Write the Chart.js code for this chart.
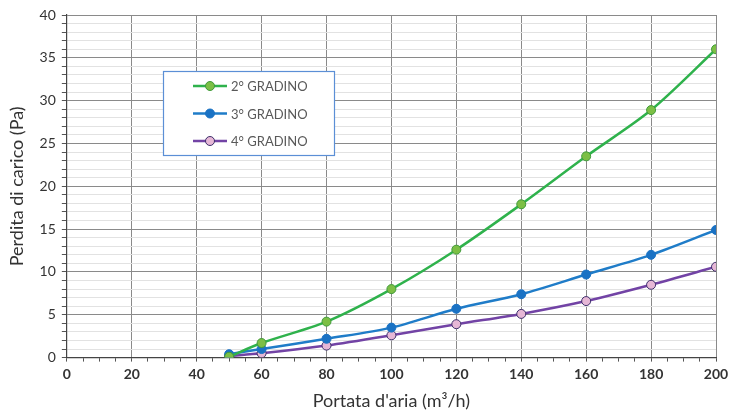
<!DOCTYPE html>
<html>
<head>
<meta charset="utf-8">
<script src="https://cdn.jsdelivr.net/npm/chart.js@4/dist/chart.umd.min.js"></script>
<style>
  body { margin: 0; background: #fff; }
  #wrap { width: 729px; height: 412px; }
</style>
</head>
<body>
<div id="wrap"><canvas id="lossChart" width="729" height="412"></canvas></div>
<script>
// Air flow (m3/h) and pressure loss (Pa) per fan step
const airFlow = [50, 60, 80, 100, 120, 140, 160, 180, 200];
const step2 = [0.1, 1.7, 4.2, 8.0, 12.6, 17.9, 23.5, 28.9, 36.0];
const step3 = [0.4, 1.0, 2.2, 3.5, 5.7, 7.4, 9.7, 12.0, 14.9];
const step4 = [0.2, 0.5, 1.4, 2.6, 3.9, 5.1, 6.6, 8.5, 10.6];
const seriesLabels = ["2° GRADINO", "3° GRADINO", "4° GRADINO"];

const FONT = "Lato, 'Open Sans', sans-serif";

function toPoints(values) {
  return airFlow.map((x, i) => ({ x: x, y: values[i] }));
}

// Legend box drawn inside the plot, like the original
const boxLegend = {
  id: "boxLegend",
  afterDraw(chart) {
    const ctx = chart.ctx;
    const left = 163, top = 71, w = 171, h = 84;
    ctx.save();
    ctx.fillStyle = "#fff";
    ctx.fillRect(left, top, w, h);
    ctx.strokeStyle = "#5b8fd6";
    ctx.lineWidth = 1.2;
    ctx.strokeRect(left + 0.5, top + 0.5, w, h);
    chart.data.datasets.forEach((ds, i) => {
      const y = top + 15 + i * 27.5;
      ctx.strokeStyle = ds.borderColor;
      ctx.lineWidth = 2.5;
      ctx.beginPath();
      ctx.moveTo(193, y);
      ctx.lineTo(227, y);
      ctx.stroke();
      ctx.beginPath();
      ctx.arc(210, y, 4.5, 0, Math.PI * 2);
      ctx.fillStyle = ds.pointBackgroundColor;
      ctx.fill();
      ctx.lineWidth = 1;
      ctx.strokeStyle = ds.pointBorderColor;
      ctx.stroke();
      ctx.fillStyle = "#595959";
      ctx.font = "13px " + FONT;
      ctx.textBaseline = "middle";
      ctx.fillText(ds.label, 231, y + 1);
    });
    ctx.restore();
  },
};

new Chart(document.getElementById("lossChart").getContext("2d"), {
  type: "line",
  data: {
    datasets: [
      {
        label: seriesLabels[0],
        data: toPoints(step2),
        borderColor: "#2fb24c",
        pointBackgroundColor: "#7cbf45",
        pointBorderColor: "#3f9a3a",
      },
      {
        label: seriesLabels[1],
        data: toPoints(step3),
        borderColor: "#1f7cc8",
        pointBackgroundColor: "#1a72c4",
        pointBorderColor: "#1a72c4",
      },
      {
        label: seriesLabels[2],
        data: toPoints(step4),
        borderColor: "#7243a5",
        pointBackgroundColor: "#e6b7d6",
        pointBorderColor: "#3d2f6b",
      },
    ].map((ds) => ({
      ...ds,
      borderWidth: 2.5,
      pointRadius: 4.5,
      pointBorderWidth: 1,
      tension: 0.3,
      fill: false,
    })),
  },
  options: {
    responsive: false,
    animation: false,
    layout: { padding: { top: 15, right: 0, left: 2, bottom: 0 } },
    plugins: {
      legend: { display: false },
      tooltip: { enabled: false },
    },
    scales: {
      x: {
        type: "linear",
        min: 0,
        max: 200,
        // keep the "200" label close to the edge like the original
        afterFit: (scale) => { scale.paddingRight = 13; },
        ticks: {
          stepSize: 5,
          autoSkip: false,
          maxRotation: 0,
          color: "#333",
          padding: 4,
          font: { family: FONT, size: 14, weight: "bold" },
          callback: (v) => (v % 20 === 0 ? v : ""),
        },
        grid: {
          color: (c) => (c.tick && c.tick.value % 20 === 0 ? "#8a8a8a" : "rgba(0,0,0,0)"),
          tickColor: "#555",
          tickLength: 4,
          lineWidth: 1,
        },
        border: { color: "#444", width: 1.2 },
        title: {
          display: true,
          text: "Portata d'aria (m³/h)",
          color: "#333",
          font: { family: FONT, size: 18 },
          padding: { top: 4, bottom: 0 },
        },
      },
      y: {
        min: 0,
        max: 40,
        ticks: {
          stepSize: 1,
          autoSkip: false,
          color: "#333",
          padding: 6,
          font: { family: FONT, size: 14 },
          callback: (v) => (v % 5 === 0 ? v : ""),
        },
        grid: {
          color: (c) => (c.tick && c.tick.value % 5 === 0 ? "#8a8a8a" : "#e2e2e2"),
          tickColor: "#555",
          tickLength: 5,
          lineWidth: 1,
        },
        border: { color: "#444", width: 1.2 },
        title: {
          display: true,
          text: "Perdita di carico (Pa)",
          color: "#333",
          font: { family: FONT, size: 18 },
          padding: { bottom: 6 },
        },
      },
    },
  },
  plugins: [boxLegend],
});
</script>
</body>
</html>
